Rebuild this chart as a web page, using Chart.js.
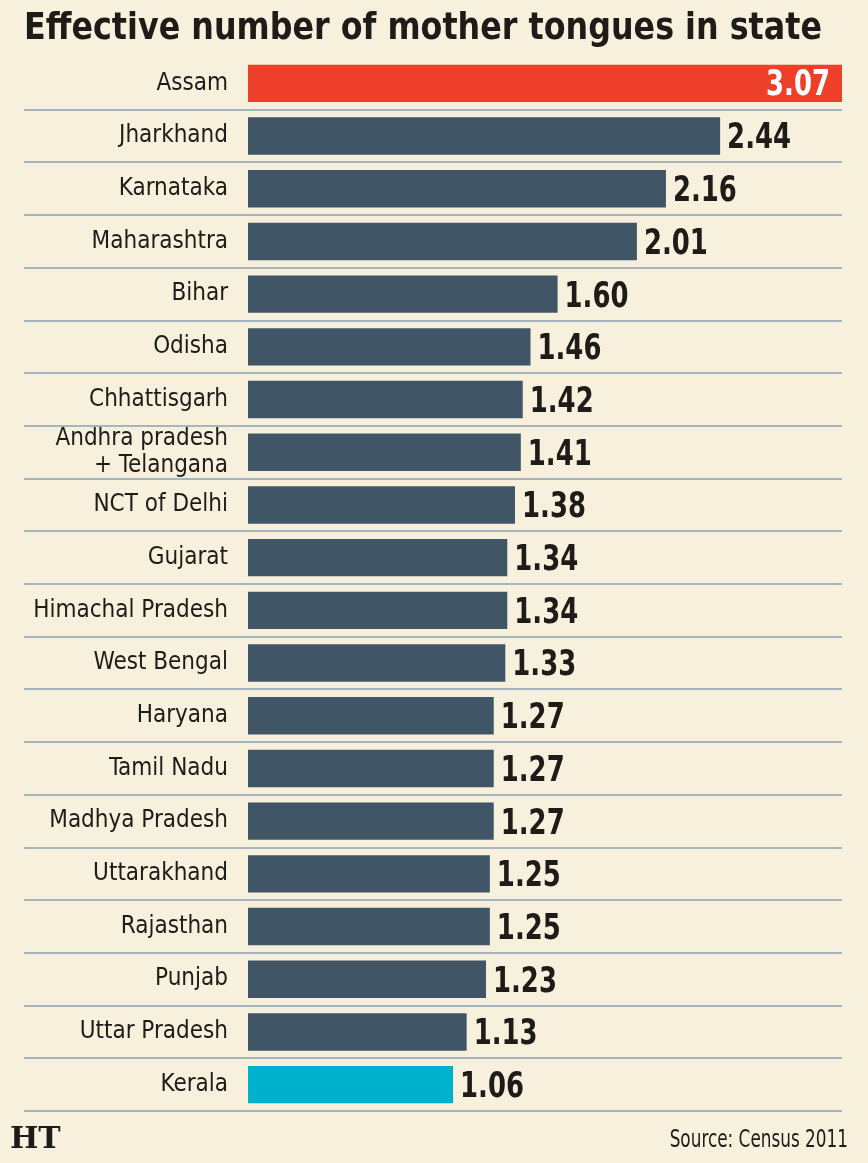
<!DOCTYPE html>
<html>
<head>
<meta charset="utf-8">
<script src="https://cdn.jsdelivr.net/npm/chart.js@4"></script>
<style>
  body { margin: 0; background: #f6f0dc; }
  #wrap { position: relative; width: 868px; height: 1163px; }
</style>
</head>
<body>
<div id="wrap"><canvas id="canvas"></canvas></div>
<script>
var states = ['Assam', 'Jharkhand', 'Karnataka', 'Maharashtra', 'Bihar', 'Odisha', 'Chhattisgarh',
    ['Andhra pradesh', '+ Telangana'], 'NCT of Delhi', 'Gujarat', 'Himachal Pradesh', 'West Bengal',
    'Haryana', 'Tamil Nadu', 'Madhya Pradesh', 'Uttarakhand', 'Rajasthan', 'Punjab', 'Uttar Pradesh', 'Kerala'];
var tongues = [3.07, 2.44, 2.16, 2.01, 1.60, 1.46, 1.42, 1.41, 1.38, 1.34, 1.34, 1.33,
    1.27, 1.27, 1.27, 1.25, 1.25, 1.23, 1.13, 1.06];
var titleText = 'Effective number of mother tongues in state';
var sourceText = 'Source: Census 2011';

var NARROW = '"Liberation Sans Narrow", "DejaVu Sans Condensed", sans-serif';

var barColors = tongues.map(function(v, i) {
    if (i == 0) return '#ee3f2b';
    if (i == tongues.length - 1) return '#00b1cd';
    return '#405565';
});

// row separators, stretched out under the labels too
var rowLines = {
    id: 'rowLines',
    beforeDatasetsDraw: function(chart) {
        var ctx = chart.ctx, y = chart.scales.y, area = chart.chartArea;
        var step = y.getPixelForValue(1) - y.getPixelForValue(0);
        ctx.save();
        ctx.strokeStyle = '#a6b6bf';
        ctx.lineWidth = 2;
        for (var i = 0; i < states.length; i++) {
            var py = Math.round(y.getPixelForValue(i) + step / 2);
            ctx.beginPath();
            ctx.moveTo(24, py);
            ctx.lineTo(area.right, py);
            ctx.stroke();
        }
        ctx.restore();
    }
};

var valueLabels = {
    id: 'valueLabels',
    afterDatasetsDraw: function(chart) {
        var ctx = chart.ctx;
        var meta = chart.getDatasetMeta(0);
        meta.data.forEach(function(bar, i) {
            var txt = tongues[i].toFixed(2);
            ctx.save();
            ctx.font = 'bold 36px ' + NARROW;
            ctx.textBaseline = 'middle';
            if (i == 0) {
                ctx.fillStyle = '#ffffff';
                ctx.textAlign = 'right';
                ctx.translate(bar.x - 12, bar.y + 2);
            } else {
                ctx.fillStyle = '#1e1b18';
                ctx.textAlign = 'left';
                ctx.translate(bar.x + 7, bar.y + 3);
            }
            ctx.scale(0.8, 1);
            ctx.fillText(txt, 0, 0);
            ctx.restore();
        });
    }
};

var extras = {
    id: 'extras',
    afterDraw: function(chart) {
        var ctx = chart.ctx;
        ctx.save();
        // title, squeezed to the width of the page
        ctx.font = 'bold 38px ' + NARROW;
        ctx.fillStyle = '#1e1b18';
        ctx.textBaseline = 'alphabetic';
        ctx.textAlign = 'left';
        var w = ctx.measureText(titleText).width;
        ctx.translate(24, 39);
        ctx.scale(798 / w, 1);
        ctx.fillText(titleText, 0, 0);
        ctx.restore();

        ctx.save();
        ctx.fillStyle = '#1e1b18';
        ctx.font = '25px ' + NARROW;
        ctx.textAlign = 'right';
        ctx.translate(848, 1147);
        ctx.scale(0.75, 1);
        ctx.fillText(sourceText, 0, 0);
        ctx.restore();

        ctx.save();
        ctx.fillStyle = '#1e1b18';
        ctx.font = 'bold 30px "DejaVu Serif", serif';
        ctx.textAlign = 'left';
        ctx.fillText('HT', 10, 1148);
        ctx.restore();
    }
};

var ctx = document.getElementById('canvas').getContext('2d');
new Chart(ctx, {
    type: 'bar',
    data: {
        labels: states,
        datasets: [{
            data: tongues,
            backgroundColor: barColors,
            borderWidth: 0,
            barPercentage: 0.71,
            categoryPercentage: 1
        }]
    },
    options: {
        indexAxis: 'y',
        responsive: true,
        maintainAspectRatio: false,
        animation: false,
        layout: { padding: { top: 57, bottom: 52, right: 26, left: 0 } },
        plugins: {
            legend: { display: false },
            tooltip: { enabled: false }
        },
        scales: {
            x: {
                display: false,
                min: 0,
                max: 3.07
            },
            y: {
                grid: { display: false, drawTicks: false },
                border: { display: false },
                ticks: {
                    autoSkip: false,
                    color: '#1e1b18',
                    padding: 20,
                    font: { family: NARROW, size: 24, lineHeight: 1.1 }
                },
                afterFit: function(scale) { scale.width = 248; }
            }
        }
    },
    plugins: [rowLines, valueLabels, extras]
});
</script>
</body>
</html>
